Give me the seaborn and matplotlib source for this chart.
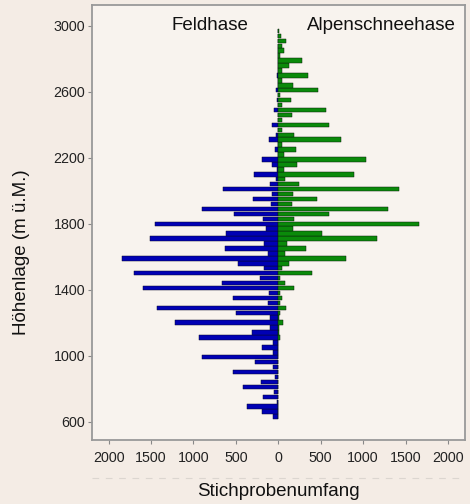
import numpy as np
import pandas as pd
import matplotlib
matplotlib.use("Agg")
import matplotlib.pyplot as plt
from matplotlib.ticker import FuncFormatter
from matplotlib.lines import Line2D
import seaborn as sns

# elevation classes (m a.s.l.), top to bottom
elevation = [2970, 2940, 2910, 2880, 2850, 2820, 2790, 2760, 2730, 2700,
             2670, 2640, 2610, 2580, 2550, 2520, 2490, 2460, 2430, 2400,
             2370, 2340, 2310, 2280, 2250, 2220, 2190, 2160, 2130, 2100,
             2070, 2040, 2010, 1980, 1950, 1920, 1890, 1860, 1830, 1800,
             1770, 1740, 1710, 1680, 1650, 1620, 1590, 1560, 1530, 1500,
             1470, 1440, 1410, 1380, 1350, 1320, 1290, 1260, 1230, 1200,
             1170, 1140, 1110, 1080, 1050, 1020, 990, 960, 930, 900,
             870, 840, 810, 780, 750, 720, 690, 660, 630]

# Alpenschneehase (right side)
alpenschneehase = [8, 30, 90, 40, 70, 20, 280, 130, 40, 345,
                   40, 175, 470, 20, 145, 40, 562, 160, 40, 600,
                   40, 185, 735, 40, 210, 70, 1034, 216, 70, 896,
                   78, 248, 1423, 169, 456, 161, 1289, 593, 180, 1658,
                   169, 511, 1163, 98, 322, 79, 798, 130, 40, 401,
                   20, 79, 181, 20, 40, 15, 86, 24, 10, 51,
                   5, 5, 24, 0, 0, 0, 0, 0, 0, 0,
                   0, 0, 0, 0, 0, 0, 0, 0, 0]

# Feldhase (left side)
feldhase = [8, 0, 0, 0, 0, 0, 0, 0, 0, 20,
            0, 0, 30, 0, 10, 0, 55, 0, 0, 80,
            0, 25, 110, 0, 40, 0, 197, 79, 20, 287,
            31, 98, 648, 75, 295, 90, 904, 523, 185, 1454,
            149, 617, 1509, 169, 625, 126, 1843, 479, 169, 1706,
            216, 668, 1600, 110, 538, 126, 1434, 503, 102, 1214,
            102, 307, 939, 67, 197, 59, 904, 275, 59, 534,
            35, 204, 417, 55, 185, 20, 369, 193, 59]

x_ticks = [-2000, -1500, -1000, -500, 0, 500, 1000, 1500, 2000]
y_ticks = [600, 1000, 1400, 1800, 2200, 2600, 3000]

df = pd.DataFrame({"elev": elevation,
                   "alpen": alpenschneehase,
                   "feld": [-v for v in feldhase]})

sns.set_theme(style="white")
plt.rcParams["font.family"] = ["Liberation Sans", "DejaVu Sans"]

fig = plt.figure(figsize=(4.7, 5.04), dpi=100, facecolor="#f4ece5")
ax = fig.add_axes([0.196, 0.127, 0.794, 0.863])
ax.set_facecolor("#f8f3ee")

sns.barplot(data=df, x="feld", y="elev", orient="y", native_scale=True,
            color="#0000b4", saturation=1, edgecolor="#0a0a30",
            linewidth=0.35, width=0.9, errorbar=None, ax=ax)
sns.barplot(data=df, x="alpen", y="elev", orient="y", native_scale=True,
            color="#0a8a0a", saturation=1, edgecolor="#0a200a",
            linewidth=0.35, width=0.9, errorbar=None, ax=ax)

ax.set_xlim(-2195, 2205)
ax.set_ylim(488, 3127)
ax.set_xticks(x_ticks)
ax.set_yticks(y_ticks)
ax.xaxis.set_major_formatter(FuncFormatter(lambda v, p: f"{abs(int(v))}"))
ax.tick_params(axis="both", which="major", length=3, width=0.8,
               color="#888888", labelsize=10.3, labelcolor="#222222",
               pad=2, bottom=True, left=True)
ax.tick_params(axis="x", pad=5)

for s in ax.spines.values():
    s.set_color("#999999")
    s.set_linewidth(1.3)

ax.set_xlabel("Stichprobenumfang", fontsize=13.5, color="#111111", labelpad=13)
ax.set_ylabel("Höhenlage (m ü.M.)", fontsize=13.5, color="#111111")
ax.yaxis.set_label_coords(-0.167, 0.432)

ax.text(-810, 3000, "Feldhase", fontsize=13.5, color="#111111",
        ha="center", va="center")
ax.text(1220, 3000, "Alpenschneehase", fontsize=13.5, color="#111111",
        ha="center", va="center")

fig.add_artist(Line2D([0.196, 0.99], [1 - 478 / 504, 1 - 478 / 504],
                      transform=fig.transFigure, color="#dcd6d0",
                      linewidth=0.8, linestyle=(0, (6, 6))))

fig.savefig("out.png", dpi=100, facecolor=fig.get_facecolor())
